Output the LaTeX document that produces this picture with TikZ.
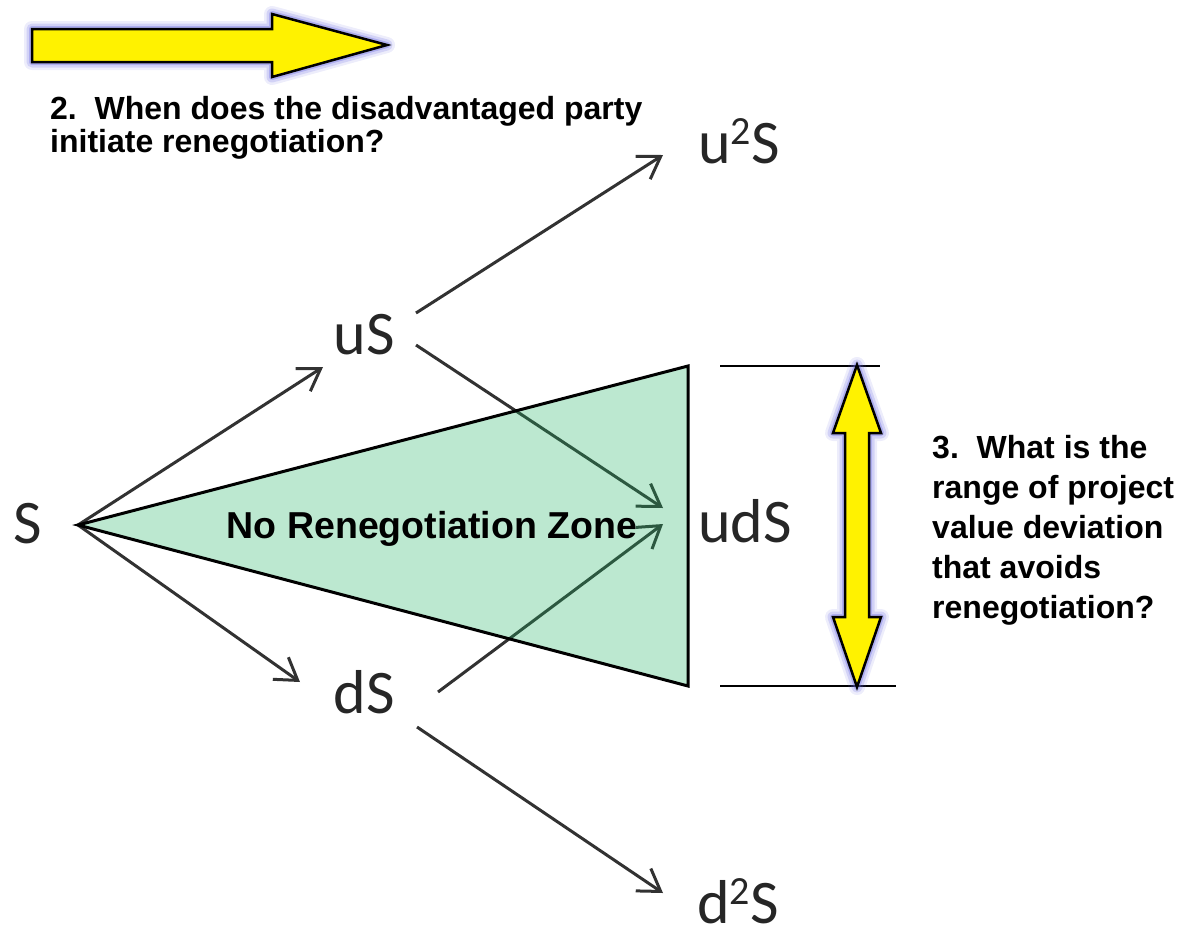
\documentclass[tikz,border=0pt]{standalone}
\usepackage{fontspec}
\setmainfont{Liberation Sans}
\newfontfamily\treefont{Carlito}
\usetikzlibrary{arrows.meta}

\definecolor{zonegreen}{RGB}{32,178,98}
\definecolor{haloblue}{RGB}{105,105,225}
\definecolor{branchgray}{RGB}{50,50,50}

\newcommand{\sqr}{{\fontsize{40}{40}\selectfont\raisebox{19pt}{2}}}

\tikzset{
  lbl/.style={font=\treefont\fontsize{62}{64}\selectfont, text=black!85, inner sep=0pt, anchor=base},
  branch/.style={draw=branchgray, line width=3pt, -{Straight Barb[length=21pt,width=27pt]}},
  zone/.style={fill=zonegreen, fill opacity=.3, draw=black, line width=3pt},
  dimline/.style={draw=black, line width=2pt},
  question/.style={font=\bfseries\fontsize{32}{#1}\selectfont, align=left, inner sep=0pt, anchor=north west},
  halo/.style={preaction={draw=haloblue, line width=16pt, opacity=.12, line join=round},
               preaction={draw=haloblue, line width=11pt, opacity=.2, line join=round},
               preaction={draw=haloblue, line width=6pt, opacity=.35, line join=round}},
  bigarrow/.style={halo, fill=yellow, draw=black, line width=2.5pt, line join=miter}
}

\begin{document}
\begin{tikzpicture}[x=1pt,y=-1pt]
  \useasboundingbox (0,0) rectangle (1184,927);

  % tree
  \node [lbl] at (28,543) (S) {S};
  \node [lbl] at (364,354) (uS) {uS};
  \node [lbl] at (739,163) (uuS) {u\sqr S};
  \node [lbl] at (745,542) (udS) {udS};
  \node [lbl] at (364,713) (dS) {dS};
  \node [lbl] at (738,923) (ddS) {d\sqr S};

  \draw [branch] ([shift={(50,-18)}]S.base) -- ([shift={(-41,13)}]uS.base);
  \draw [branch] ([shift={(50,-18)}]S.base) -- ([shift={(-64,-31)}]dS.base);
  \draw [branch] ([shift={(52,-41)}]uS.base) -- ([shift={(-76,-8)}]uuS.base);
  \draw [branch] ([shift={(52,-9)}]uS.base) -- ([shift={(-82,-34)}]udS.base);
  \draw [branch] ([shift={(74,-21)}]dS.base) -- ([shift={(-82,-18)}]udS.base);
  \draw [branch] ([shift={(53,14)}]dS.base) -- ([shift={(-75,-30)}]ddS.base);

  % zone
  \coordinate (apex) at (78,525);
  \coordinate (ztop) at (688,366);
  \coordinate (zbot) at (688,686);
  \draw [zone] (apex) -- (ztop) -- (zbot) -- cycle;
  \node [font=\bfseries\fontsize{37.5}{38}\selectfont, inner sep=0pt] at (432,529) (zlabel) {No Renegotiation Zone};

  \coordinate (tr) at (880,366);
  \coordinate (br) at (896,686);
  \draw [dimline] ([xshift=32]ztop) -- (tr);
  \draw [dimline] ([xshift=32]zbot) -- (br);

  % yellow arrows
  \draw [bigarrow] (32,29) -- (272,29) -- (272,14) -- (387,45) -- (272,77) -- (272,62) -- (32,62) -- cycle;
  \draw [bigarrow] (857,365) -- (881,433) -- (869,433) -- (869,617) -- (881,617) -- (857,687)
    -- (833,617) -- (845,617) -- (845,433) -- (833,433) -- cycle;

  % questions
  \node [question=33] at (50,96) (q2) {2.\ \ When does the disadvantaged party\\initiate renegotiation?};
  \node [question=40] at (932,435) (q3) {3.\ \ What is the\\range of project\\value deviation\\that avoids\\renegotiation?};
\end{tikzpicture}
\end{document}
